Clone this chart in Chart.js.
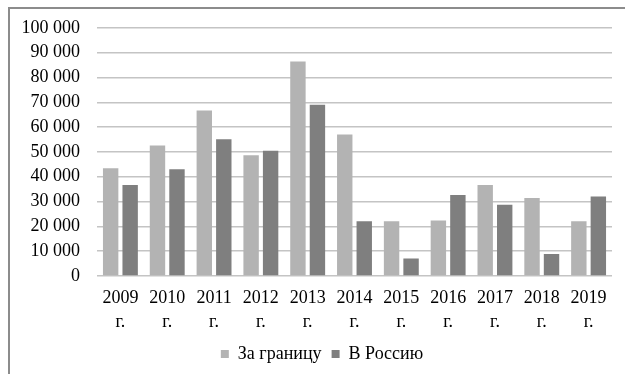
<!DOCTYPE html>
<html>
<head>
<meta charset="utf-8">
<script src="https://cdn.jsdelivr.net/npm/chart.js@4/dist/chart.umd.min.js"></script>
<style>
  html, body { margin: 0; padding: 0; background: #fff; }
  #wrap { position: relative; width: 625px; height: 374px; }
</style>
</head>
<body>
<div id="wrap"><canvas id="chart" width="625" height="374"></canvas></div>
<script>
// Data
const years = ['2009', '2010', '2011', '2012', '2013', '2014', '2015', '2016', '2017', '2018', '2019'];
const abroad = [43400, 52600, 66700, 48700, 86400, 57000, 22100, 22400, 36700, 31400, 22100];
const toRussia = [36700, 43000, 55100, 50500, 69000, 22100, 7100, 32600, 28700, 8900, 32000];
const seriesNames = ['За границу', 'В Россию'];
const yTicks = [0, 10000, 20000, 30000, 40000, 50000, 60000, 70000, 80000, 90000, 100000];

const fmt = (v) => String(v).replace(/\B(?=(\d{3})+(?!\d))/g, ' ');

// thin grey frame on top and left, like the scanned original
// and nudge the legend a little right, where the original has it
const framePlugin = {
  id: 'frame',
  beforeDraw(chart) {
    if (chart.legend) chart.legend.left = 32;
    const c = chart.ctx;
    c.save();
    c.strokeStyle = '#8c8c8c';
    c.lineWidth = 2;
    c.beginPath();
    c.moveTo(9, chart.height);
    c.lineTo(9, 8);
    c.lineTo(chart.width, 8);
    c.stroke();
    c.restore();
  },
};

Chart.defaults.font.family = '"Liberation Serif", "Times New Roman", serif';
Chart.defaults.color = '#000';

new Chart(document.getElementById('chart'), {
  type: 'bar',
  data: {
    labels: years.map((y) => [y, 'г.']),
    datasets: [
      {
        label: seriesNames[0],
        data: abroad,
        backgroundColor: '#b3b3b3',
        barPercentage: 0.79,
        categoryPercentage: 0.833,
      },
      {
        label: seriesNames[1],
        data: toRussia,
        backgroundColor: '#7f7f7f',
        barPercentage: 0.79,
        categoryPercentage: 0.833,
      },
    ],
  },
  options: {
    responsive: false,
    animation: false,
    layout: { padding: { top: 25, right: 13, bottom: 1, left: 0 } },
    plugins: {
      tooltip: { enabled: false },
      legend: {
        position: 'bottom',
        labels: {
          boxWidth: 8,
          boxHeight: 8,
          padding: 10,
          color: '#000',
          font: { size: 18 },
        },
      },
    },
    scales: {
      x: {
        grid: { display: false, drawTicks: false },
        border: { display: false },
        ticks: {
          color: '#000',
          padding: 10,
          maxRotation: 0,
          autoSkip: false,
          font: { size: 18, lineHeight: 1.33 },
        },
        afterFit(scale) { scale.height = 59; },
      },
      y: {
        min: 0,
        max: 100000,
        afterBuildTicks(scale) { scale.ticks = yTicks.map((v) => ({ value: v })); },
        grid: { color: '#c4c4c4', lineWidth: 1.5, drawTicks: false },
        border: { display: false },
        ticks: {
          color: '#000',
          padding: 17,
          font: { size: 18 },
          callback: (v) => fmt(v),
        },
        afterFit(scale) { scale.width = 97; },
      },
    },
  },
  plugins: [framePlugin],
});
</script>
</body>
</html>
